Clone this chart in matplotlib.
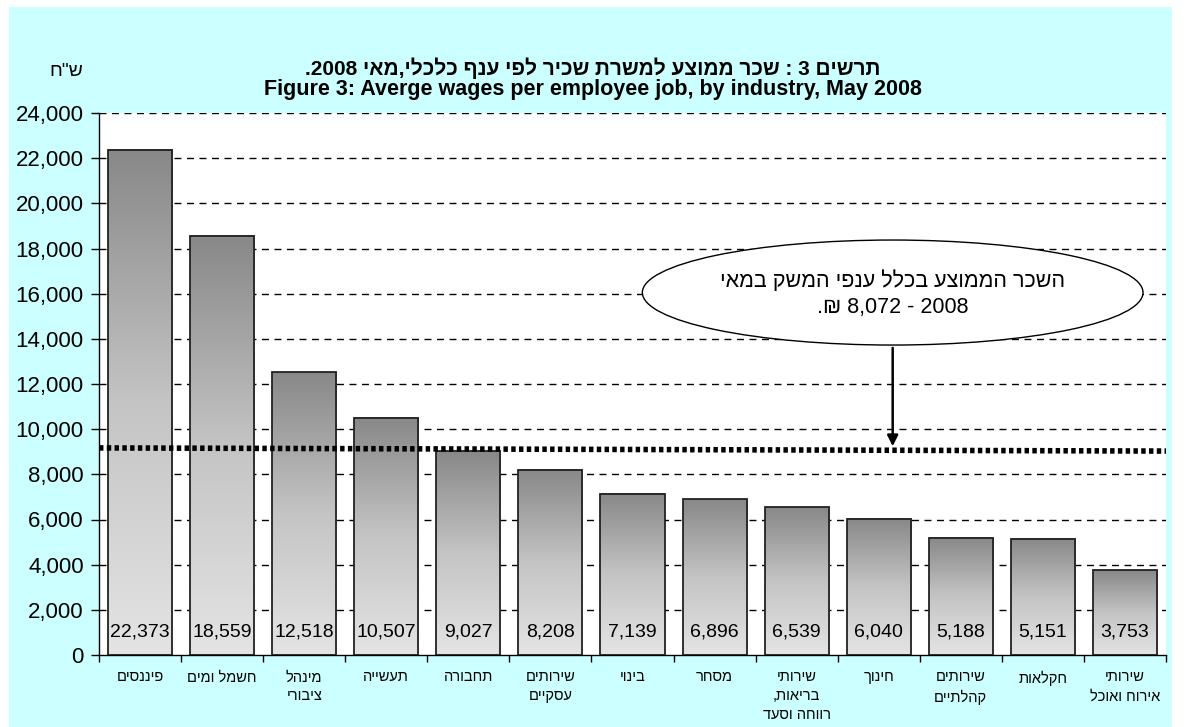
import re
import numpy as np
import matplotlib.pyplot as plt
from matplotlib.patches import Ellipse, Rectangle
from matplotlib.ticker import FuncFormatter, MultipleLocator

plt.rcParams['font.family'] = ['Liberation Sans', 'DejaVu Sans']

# industries (logical Hebrew order), left to right as in the chart
industries = ['פיננסים', 'חשמל ומים', 'מינהל\nציבורי', 'תעשייה', 'תחבורה',
              'שירותים\nעסקיים', 'בינוי', 'מסחר', 'שירותי\nבריאות,\nרווחה וסעד',
              'חינוך', 'שירותים\nקהלתיים', 'חקלאות', 'שירותי\nאירוח ואוכל']
wages = [22373, 18559, 12518, 10507, 9027, 8208, 7139, 6896, 6539, 6040, 5188, 5151, 3753]
# dotted average line as drawn (start, end)
avg_line = [9170, 9030]
y_ticks = list(range(0, 24001, 2000))

title_he = 'תרשים 3 : שכר ממוצע למשרת שכיר לפי ענף כלכלי,מאי 2008.'
title_en = 'Figure 3: Averge wages per employee job, by industry, May 2008'
unit_he = 'ש"ח'
callout_he = ['השכר הממוצע בכלל ענפי המשק במאי', '2008 - 8,072 ₪.']


def rtl(s):
    # crude visual order for matplotlib: flip each line, keep numbers LTR
    out = []
    for line in s.split('\n'):
        r = line[::-1]
        r = re.sub(r'[0-9][0-9,.]*[0-9]|[0-9]', lambda m: m.group(0)[::-1], r)
        out.append(r)
    return '\n'.join(out)


fig = plt.figure(figsize=(11.86, 7.27), dpi=100)
fig.patch.set_facecolor('white')
bg = Rectangle((9 / 1186, 0), (1172 - 9) / 1186, 1 - 7 / 727,
               transform=fig.transFigure, facecolor='#ccffff',
               edgecolor='none', zorder=-10)
fig.patches.append(bg)

ax = fig.add_axes([99 / 1186, 1 - 655 / 727, (1166 - 99) / 1186, (655 - 113) / 727])
ax.set_facecolor('white')

x = np.arange(len(wages))
w = 0.78
grad = np.linspace(0, 1, 256).reshape(-1, 1)
cmap = plt.matplotlib.colors.LinearSegmentedColormap.from_list(
    'g', ['#e4e4e4', '#c4c4c4', '#888888'])
for xi, v in zip(x, wages):
    ax.imshow(grad, extent=[xi - w / 2, xi + w / 2, 0, v], origin='lower',
              cmap=cmap, aspect='auto', zorder=2)
    ax.add_patch(Rectangle((xi - w / 2, 0), w, v, fill=False,
                           edgecolor='#222222', lw=1.3, zorder=3))
    ax.text(xi, 1000, f'{v:,}', ha='center', va='center', fontsize=14, zorder=4)

ax.set_xlim(-0.5, len(wages) - 0.5)
ax.set_ylim(0, 24000)

for t in y_ticks[1:]:
    ax.axhline(t, color='black', lw=1, ls=(0, (5, 4)), zorder=1)

ax.plot([-0.5, len(wages) - 0.5], avg_line, color='black', lw=4,
        ls=(0, (0.8, 0.6)), zorder=5)

# callout
ax.add_patch(Ellipse((9.17, 16050), 6.1, 4650, facecolor='white',
                     edgecolor='black', lw=1, zorder=6))
ax.text(9.17, 16550, rtl(callout_he[0]), ha='center', va='center', fontsize=15.5, zorder=7)
ax.text(9.17, 15400, rtl(callout_he[1]), ha='center', va='center', fontsize=15.5, zorder=7)
ax.annotate('', xy=(9.17, 9120), xytext=(9.17, 13720),
            arrowprops=dict(arrowstyle='-|>', color='black', lw=1.8,
                            mutation_scale=16), zorder=7)

ax.set_yticks(y_ticks)
ax.yaxis.set_major_formatter(FuncFormatter(lambda v, p: f'{int(v):,}'))
ax.tick_params(axis='y', labelsize=16, direction='out', length=6, width=1, pad=5)
ax.set_xticks(x)
ax.set_xticklabels([rtl(s) for s in industries], fontsize=10.5, linespacing=1.45)
ax.tick_params(axis='x', which='major', length=0, pad=11)
ax.xaxis.set_minor_locator(MultipleLocator(1, offset=0.5))
ax.tick_params(axis='x', which='minor', length=5, width=1, direction='out')
for s in ['top', 'right']:
    ax.spines[s].set_visible(False)
ax.spines['left'].set_linewidth(1)
ax.spines['bottom'].set_linewidth(1)

fig.text(0.5, 1 - 68 / 727, rtl(title_he), ha='center', va='center',
         fontsize=15, fontweight='bold')
fig.text(0.5, 1 - 89.5 / 727, title_en, ha='center', va='center',
         fontsize=15.5, fontweight='bold')
fig.text(66 / 1186, 1 - 71 / 727, rtl(unit_he), ha='center', va='center', fontsize=14)

fig.savefig('out.png', dpi=100)
